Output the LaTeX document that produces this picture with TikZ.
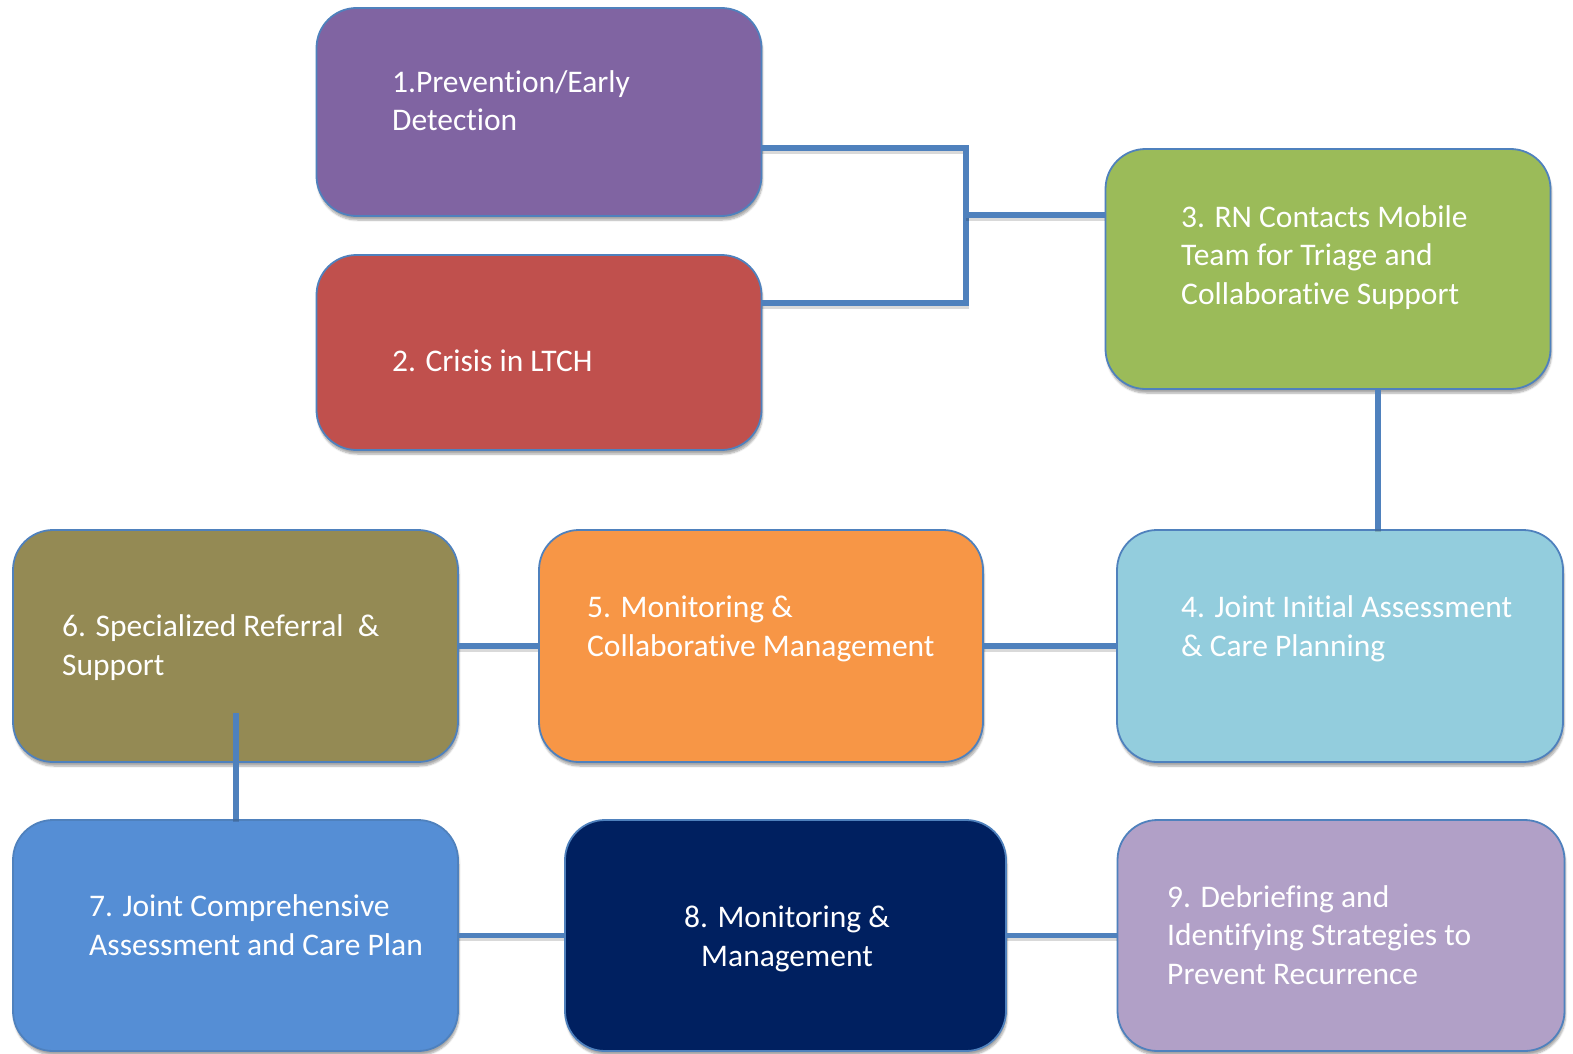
\documentclass[tikz,border=0pt]{standalone}
\usepackage{fontspec}
\setmainfont{Carlito}[Ligatures={NoCommon,NoRare,NoContextual}]
\usetikzlibrary{shadows.blur}
\definecolor{cPurple}{HTML}{8064A2}
\definecolor{cRed}{HTML}{C0504D}
\definecolor{cGreen}{HTML}{9BBB59}
\definecolor{cLBlue}{HTML}{93CDDD}
\definecolor{cOrange}{HTML}{F79646}
\definecolor{cOlive}{HTML}{948A54}
\definecolor{cBlue}{HTML}{558ED5}
\definecolor{cNavy}{HTML}{002060}
\definecolor{cLav}{HTML}{B1A0C7}
\definecolor{cLine}{HTML}{4F81BD}
\tikzset{
  box/.style={draw=cLine, line width=1.8pt, rounded corners=40pt, inner sep=0pt,
    blur shadow={shadow xshift=1pt, shadow yshift=-4pt, shadow blur steps=6, shadow opacity=35}},
  lbl/.style={text=white, align=left, inner sep=0pt, anchor=base west,
    font=\fontsize{31.5}{38.5}\selectfont},
  clbl/.style={text=white, align=center, inner sep=0pt, anchor=base,
    font=\fontsize{31.5}{38.5}\selectfont},
  conn/.style={draw=cLine, line width=5.2pt,
    preaction={draw=black, draw opacity=0.15, line width=5.2pt, transform canvas={yshift=-3pt}}},
}
\begin{document}
\begin{tikzpicture}[x=1pt,y=-1pt]
\useasboundingbox (0,0) rectangle (1573,1054);
% boxes: name, colour, centre x, centre y, width, height
\newcommand{\mybox}[6]{\node[box, fill=#2, minimum width=#5pt, minimum height=#6pt] (#1) at (#3,#4) {};}
\mybox{b1}{cPurple}{539}{112}{445}{208}
\mybox{b2}{cRed}{539}{352.5}{445}{195}
\mybox{b3}{cGreen}{1328}{269}{445}{240}
\mybox{b4}{cLBlue}{1340}{646}{446}{232}
\mybox{b5}{cOrange}{761}{646}{444}{232}
\mybox{b6}{cOlive}{235.5}{646}{445}{232}
\mybox{b7}{cBlue}{235.5}{935.5}{445}{231}
\mybox{b8}{cNavy}{785.5}{935.5}{441}{231}
\mybox{b9}{cLav}{1341}{935.5}{447}{231}
% labels (anchored at the baseline of the last line)
\node[lbl] (t1) at (392,131) {1.Prevention/Early\\Detection};
\node[lbl] (t2) at (392,371) {2. Crisis in LTCH};
\node[lbl] (t3) at (1181,304) {3. RN Contacts Mobile\\Team for Triage and\\Collaborative Support};
\node[lbl] (t4) at (1181,656) {4. Joint Initial Assessment\\\& Care Planning};
\node[lbl] (t5) at (587,656) {5. Monitoring \&\\Collaborative Management};
\node[lbl] (t6) at (62,675) {6. Specialized Referral~~\&\\Support};
\node[lbl] (t7) at (89,955) {7. Joint Comprehensive\\Assessment and Care Plan};
\node[clbl] (t8) at (787,966) {8. Monitoring \&\\Management};
\node[lbl] (t9) at (1167,984) {9. Debriefing and\\Identifying Strategies to\\Prevent Recurrence};
% connector junctions
\coordinate (jt) at (966,148);
\coordinate (jb) at (966,303);
\coordinate (jm) at (966,215);
\coordinate (v3) at (1378,389);
\coordinate (c6) at (236,713);
\draw[conn] (b1.east |- jt) -- (jt) -- (jb) -- (b2.east |- jb);
\draw[conn] (jm) -- (b3.west |- jm);
\draw[conn] (v3) -- (b4.north -| v3);
\draw[conn] (b5.east) -- (b4.west);
\draw[conn] (b6.east) -- (b5.west);
\draw[conn] (c6) -- (b7.north -| c6);
\draw[conn] (b7.east) -- (b8.west);
\draw[conn] (b8.east) -- (b9.west);
\end{tikzpicture}
\end{document}
